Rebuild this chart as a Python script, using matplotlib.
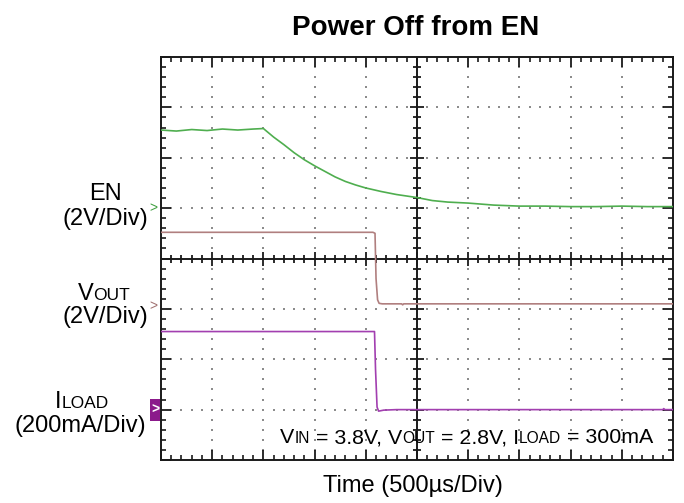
import matplotlib
matplotlib.use('Agg')
import matplotlib.pyplot as plt
import numpy as np
from matplotlib.patches import Rectangle
from matplotlib.font_manager import FontProperties
import matplotlib.transforms as mtransforms

FONT = 'Liberation Sans'
plt.rcParams['font.family'] = [FONT, 'DejaVu Sans']

# ---------------- data (divisions: x 0..10, y 0..8) ----------------
en_t = [0.0, 0.3, 0.6, 0.9, 1.2, 1.5, 1.8, 2.0, 2.2, 2.4, 2.6, 2.8, 3.0, 3.2,
        3.4, 3.6, 3.8, 4.0, 4.3, 4.6, 5.0, 5.3, 5.6, 6.0, 6.5, 7.0, 7.5, 8.0,
        8.5, 9.0, 9.5, 10.0]
en_v = [6.55, 6.53, 6.56, 6.54, 6.57, 6.55, 6.57, 6.58, 6.41, 6.26, 6.10, 5.96,
        5.84, 5.73, 5.62, 5.53, 5.46, 5.40, 5.33, 5.27, 5.21, 5.15, 5.12, 5.10,
        5.06, 5.04, 5.04, 5.03, 5.03, 5.04, 5.03, 5.03]

vout_t = [0.0, 4.14, 4.18, 4.20, 4.23, 4.26, 4.32, 4.7, 4.72, 4.74, 10.0]
vout_v = [4.52, 4.52, 4.50, 3.60, 3.18, 3.11, 3.10, 3.10, 3.08, 3.10, 3.10]

iload_t = [0.0, 4.17, 4.19, 4.22, 4.25, 4.35, 4.6, 9.8, 9.82, 9.84, 10.0]
iload_v = [2.55, 2.55, 1.80, 1.05, 0.97, 0.99, 1.00, 1.00, 1.02, 1.00, 1.00]

en_color = '#4fae4f'
vout_color = '#b07f7f'
iload_color = '#a23fb0'
ink = '#1a1a1a'

W, H = 684, 503
fig = plt.figure(figsize=(W / 100, H / 100), dpi=100)
ax = fig.add_axes([161 / W, 1 - 460 / H, 512 / W, 403 / H])
ax.set_xlim(0, 10)
ax.set_ylim(0, 8)

# border ticks
ax.set_xticks(np.arange(0, 11, 1))
ax.set_xticks(np.arange(0, 10.01, 0.2), minor=True)
ax.set_yticks(np.arange(0, 9, 1))
ax.set_yticks(np.arange(0, 8.01, 0.2), minor=True)
ax.tick_params(which='both', direction='in', top=True, right=True,
               bottom=True, left=True,
               labelbottom=False, labelleft=False, color=ink)
ax.tick_params(which='major', length=7.5, width=1.3)
ax.tick_params(which='minor', length=3.8, width=1.2)
for s in ax.spines.values():
    s.set_linewidth(1.4)
    s.set_color(ink)

# dotted grid
gx = [1, 2, 3, 4, 6, 7, 8, 9]
gy = [1, 2, 3, 5, 6, 7]
pts = []
for x in gx:
    for y in np.arange(0.2, 7.9, 0.2):
        pts.append((x, y))
for y in gy:
    for x in np.arange(0.2, 9.9, 0.2):
        pts.append((x, y))
pts = np.array(pts)
ax.scatter(pts[:, 0], pts[:, 1], marker='s', s=1.8, color='#8c8c8c',
           linewidths=0, zorder=1)

# center cross with ladder ticks (markers)
ax.axhline(4, color=ink, lw=1.4, zorder=2)
ax.axvline(5, color=ink, lw=1.4, zorder=2)
cx = np.round(np.arange(0.2, 9.9, 0.2), 6)
cx_major = np.isclose(cx, np.round(cx))
cy = np.round(np.arange(0.2, 7.9, 0.2), 6)
cy_major = np.isclose(cy, np.round(cy))
ax.plot(cx[~cx_major], np.full((~cx_major).sum(), 4.0), linestyle='none',
        marker='|', markersize=6, markeredgewidth=1.3, color=ink, zorder=2)
ax.plot(cx[cx_major], np.full(cx_major.sum(), 4.0), linestyle='none',
        marker='|', markersize=10, markeredgewidth=1.3, color=ink, zorder=2)
ax.plot(np.full((~cy_major).sum(), 5.0), cy[~cy_major], linestyle='none',
        marker='_', markersize=6, markeredgewidth=1.3, color=ink, zorder=2)
ax.plot(np.full(cy_major.sum(), 5.0), cy[cy_major], linestyle='none',
        marker='_', markersize=10, markeredgewidth=1.3, color=ink, zorder=2)

# traces
ax.plot(en_t, en_v, color=en_color, lw=1.2, zorder=3)
ax.plot(vout_t, vout_v, color=vout_color, lw=1.2, zorder=3)
ax.plot(iload_t, iload_v, color=iload_color, lw=1.2, zorder=3)

# channel markers
trans = mtransforms.blended_transform_factory(ax.transAxes, ax.transData)
ax.text(-0.0156, 5.0, '>', transform=trans, color='#3f9f3f', fontsize=10,
        ha='center', va='center', clip_on=False)
ax.text(-0.0156, 3.05, '>', transform=trans, color='#a07070', fontsize=10,
        ha='center', va='center', clip_on=False)
ax.add_patch(Rectangle((-0.0215, 0.78), 0.0195, 0.44, transform=trans,
                       facecolor='#8b1a8b', edgecolor='none', clip_on=False))
ax.text(-0.0118, 1.0, '>', transform=trans, color='white', fontsize=10,
        fontweight='bold', ha='center', va='center', clip_on=False)

# rich text helper
renderer = fig.canvas.get_renderer()


def measure(s, fs, weight='normal'):
    prop = FontProperties(family=FONT, size=fs, weight=weight)
    w1, _, _ = renderer.get_text_width_height_descent('x' + s + 'x', prop, ismath=False)
    w2, _, _ = renderer.get_text_width_height_descent('xx', prop, ismath=False)
    return w1 - w2


def rich(x, yb, pieces, ha='center'):
    widths = [measure(s, fs) for s, fs in pieces]
    total = sum(widths)
    x0 = x - total / 2 if ha == 'center' else x
    for (s, fs), w in zip(pieces, widths):
        st = s.lstrip(' ')
        lead = len(s) - len(st)
        off = measure(' ' * lead, fs) if lead else 0
        fig.text((x0 + off) / W, 1 - yb / H, st, fontsize=fs, family=FONT,
                 ha='left', va='baseline', color='black')
        x0 += w


MAIN = 17
SUB = 12.5
rich(105, 200, [('EN', MAIN)])
rich(105, 225, [('(2V/Div)', MAIN)])
rich(104, 300, [('V', MAIN), ('OUT', SUB)])
rich(105, 323, [('(2V/Div)', MAIN)])
rich(82, 408, [('I', MAIN), ('LOAD', SUB)])
rich(80, 432, [('(200mA/Div)', MAIN)])

AM = 15.4
AS = 11.2
rich(280, 443, [('V', AM), ('IN', AS), (' = 3.8V, V', AM), ('OUT', AS),
                (' = 2.8V, I', AM), ('LOAD', AS), (' = 300mA', AM)], ha='left')

fig.text(416 / W, 1 - 35 / H, 'Power Off from EN', fontsize=20, fontweight='bold',
         family=FONT, ha='center', va='baseline')
fig.text(413 / W, 1 - 492 / H, 'Time (500\u00b5s/Div)', fontsize=17,
         family=FONT, ha='center', va='baseline')

fig.savefig('out.png', dpi=100)
